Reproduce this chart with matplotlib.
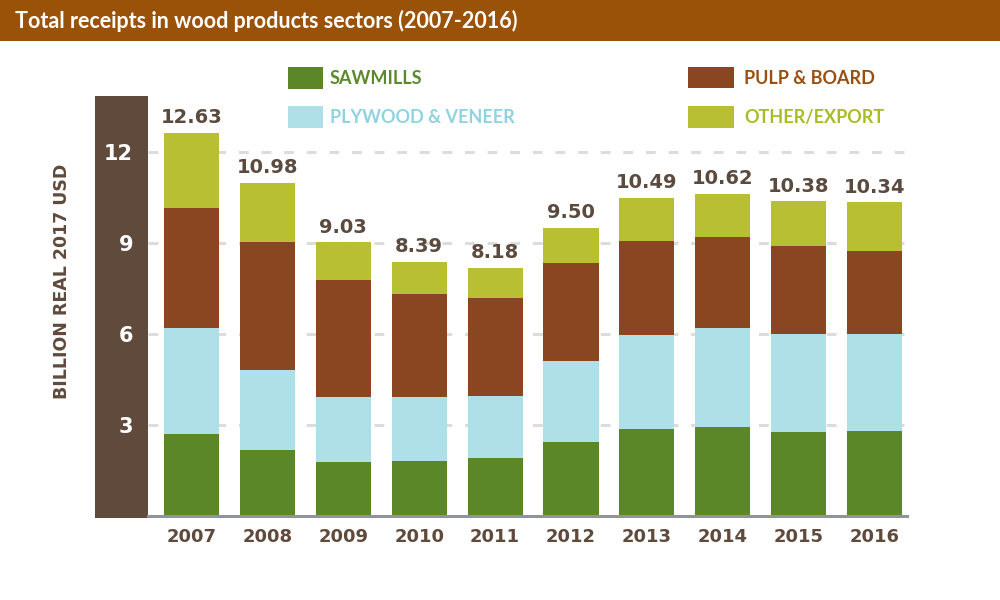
import matplotlib
matplotlib.use("Agg")
import matplotlib.pyplot as plt
from matplotlib.patches import Rectangle
import numpy as np

years = ["2007", "2008", "2009", "2010", "2011", "2012", "2013", "2014", "2015", "2016"]
sawmills = [2.70, 2.18, 1.77, 1.81, 1.92, 2.43, 2.87, 2.92, 2.77, 2.81]
plywood = [3.49, 2.63, 2.14, 2.11, 2.04, 2.67, 3.09, 3.27, 3.24, 3.18]
pulp = [3.96, 4.22, 3.87, 3.41, 3.23, 3.23, 3.12, 3.01, 2.91, 2.76]
other = [2.48, 1.95, 1.25, 1.06, 0.99, 1.17, 1.41, 1.42, 1.46, 1.59]
totals = [12.63, 10.98, 9.03, 8.39, 8.18, 9.50, 10.49, 10.62, 10.38, 10.34]
yticks = [3, 6, 9, 12]

series_names = ["SAWMILLS", "PLYWOOD & VENEER", "PULP & BOARD", "OTHER/EXPORT"]
bar_colors = ["#5c8728", "#afe0e7", "#8a4521", "#b9bf33"]
text_colors = ["#5b8a2a", "#8fd3e0", "#9a4f12", "#a9bd22"]
dark = "#5f4a3c"

W, H = 1000, 600
fig = plt.figure(figsize=(10, 6), dpi=100)


def fx(px):
    return px / W


def fy(py):
    return 1 - py / H


# title bar
fig.patches.append(Rectangle((0, fy(40.5)), 1, 40.5 / H, transform=fig.transFigure,
                             facecolor="#9a5209", edgecolor="none", zorder=0))
fig.text(fx(15), fy(21), "Total receipts in wood products sectors (2007-2016)",
         color="white", fontsize=15.5, fontfamily="Lato", fontweight="bold",
         ha="left", va="center")

# dark band
fig.patches.append(Rectangle((fx(95), fy(517.7)), fx(148) - fx(95), (517.7 - 95.7) / H,
                             transform=fig.transFigure, facecolor=dark, edgecolor="none", zorder=0))

ax = fig.add_axes([fx(148), fy(516), fx(907) - fx(148), (516 - 95.7) / H])
ax.set_zorder(2)
ax.set_facecolor("none")
x = np.arange(len(years))
bw = 0.725
bottom = np.zeros(len(years))
for vals, col in zip([sawmills, plywood, pulp, other], bar_colors):
    ax.bar(x, vals, bw, bottom=bottom, color=col, edgecolor="none", zorder=3)
    bottom = bottom + np.array(vals)

for xi, t in zip(x, totals):
    ax.annotate(f"{t:.2f}", (xi, t), xytext=(0, 4), textcoords="offset points",
                ha="center", va="bottom", color="#5b4a3e", fontsize=14,
                fontweight="bold", fontfamily="DejaVu Sans")

ax.set_xlim(-0.573, 9.427)
ax.set_ylim(0, 13.86)
ax.set_yticks(yticks)
ax.set_yticklabels([str(v) for v in yticks])
ax.set_xticks(x)
ax.set_xticklabels(years)
ax.tick_params(axis="y", length=0, pad=10.8, colors="white", labelsize=15)
ax.tick_params(axis="x", length=0, pad=8.5, colors=dark, labelsize=13)
for lab in ax.get_yticklabels() + ax.get_xticklabels():
    lab.set_fontweight("bold")
ax.grid(axis="y", color="#dcdcdc", linewidth=2.2, linestyle=(0, (3.2, 4.2)), zorder=1)
ax.grid(axis="x", visible=False)
for s in ["top", "right", "left"]:
    ax.spines[s].set_visible(False)
ax.spines["bottom"].set_color("#909498")
ax.spines["bottom"].set_linewidth(2.2)
ax.spines["bottom"].set_zorder(4)

fig.text(fx(62), fy(281), "BILLION REAL 2017 USD", rotation=90, color=dark,
         fontsize=12.5, fontweight="bold", ha="center", va="center")

# legend
legend_pos = [(288, 323, 67, 89, 330, 78), (288, 323, 106, 128, 330, 117),
              (688, 734, 67, 88, 744, 78), (688, 734, 106, 128, 744, 117)]
for (x0, x1, y0, y1, tx, ty), name, bc, tc in zip(legend_pos, series_names, bar_colors, text_colors):
    fig.patches.append(Rectangle((fx(x0), fy(y1)), fx(x1) - fx(x0), (y1 - y0) / H,
                                 transform=fig.transFigure, facecolor=bc, edgecolor="none"))
    fig.text(fx(tx), fy(ty), name, color=tc, fontsize=13, fontfamily="Lato",
             fontweight="bold", ha="left", va="center")

fig.savefig("out.png", dpi=100)
